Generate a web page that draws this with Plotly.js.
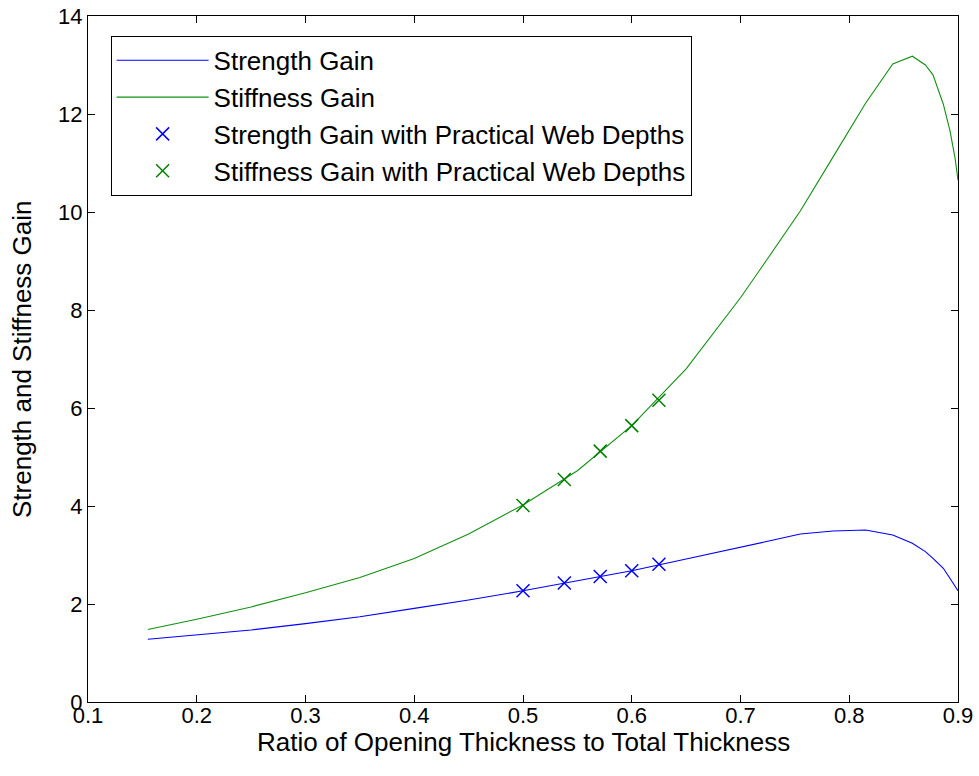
<!DOCTYPE html>
<html>
<head>
<meta charset="utf-8">
<script src="https://cdn.plot.ly/plotly-3.0.1.min.js"></script>
<style>html,body{margin:0;padding:0;background:#fff;}#chart{width:979px;height:776px;}</style>
</head>
<body>
<div id="chart"></div>
<script>
// Ratio of opening thickness to total thickness (curve samples)
const ratio = [0.155, 0.2, 0.25, 0.3, 0.35, 0.4, 0.45, 0.5, 0.55, 0.6, 0.65, 0.7, 0.725, 0.755, 0.785, 0.815, 0.84, 0.858, 0.87, 0.877, 0.8865, 0.8927, 0.8973, 0.9];
const strengthGain = [1.28, 1.37, 1.47, 1.60, 1.74, 1.91, 2.08, 2.27, 2.47, 2.68, 2.92, 3.15, 3.28, 3.43, 3.49, 3.51, 3.41, 3.24, 3.07, 2.93, 2.73, 2.52, 2.36, 2.27];
const stiffnessGain = [1.48, 1.69, 1.94, 2.23, 2.54, 2.93, 3.43, 4.02, 4.72, 5.64, 6.8, 8.25, 9.05, 10.02, 11.12, 12.22, 13.02, 13.18, 13.0, 12.8, 12.2, 11.65, 11.1, 10.65];
// Practical web depths
const practicalRatio = [0.5, 0.538, 0.571, 0.6, 0.625];
const practicalStrength = [2.27, 2.43, 2.56, 2.68, 2.81];
const practicalStiffness = [4.01, 4.54, 5.12, 5.64, 6.16];
const xTicks = [0.1, 0.2, 0.3, 0.4, 0.5, 0.6, 0.7, 0.8, 0.9];
const yTicks = [0, 2, 4, 6, 8, 10, 12, 14];
const xTitle = 'Ratio of Opening Thickness to Total Thickness';
const yTitle = 'Strength and Stiffness Gain';

const FONT = 'Liberation Sans, Arial, sans-serif';
const traces = [
  {x: ratio, y: strengthGain, mode: 'lines', name: 'Strength Gain', legendgroup: 'a',
   line: {color: '#0000ff', width: 1.1}},
  {x: ratio, y: stiffnessGain, mode: 'lines', name: 'Stiffness Gain', legendgroup: 'b',
   line: {color: '#129012', width: 1.1}},
  {x: practicalRatio, y: practicalStrength, mode: 'markers', name: 'Strength Gain with Practical Web Depths', legendgroup: 'c',
   marker: {symbol: 'x-thin', size: 13, line: {color: '#0000ff', width: 1.5}, color: '#0000ff'}},
  {x: practicalRatio, y: practicalStiffness, mode: 'markers', name: 'Stiffness Gain with Practical Web Depths', legendgroup: 'd',
   marker: {symbol: 'x-thin', size: 13, line: {color: '#008000', width: 1.5}, color: '#008000'}}
];
const axisCommon = {
  showline: true, linecolor: '#000', linewidth: 1, mirror: 'ticks',
  ticks: 'inside', ticklen: 7, tickcolor: '#000', tickwidth: 1,
  showgrid: false, zeroline: false,
  tickfont: {family: FONT, size: 22, color: '#000'}
};
const layout = {
  width: 979, height: 776,
  margin: {l: 88, r: 21, t: 16, b: 74},
  paper_bgcolor: '#fff', plot_bgcolor: '#fff',
  showlegend: true,
  legend: {
    x: 0.026, y: 0.971, xanchor: 'left', yanchor: 'top',
    bgcolor: '#fff', bordercolor: '#000', borderwidth: 1,
    font: {family: FONT, size: 26, color: '#000'},
    traceorder: 'grouped', tracegroupgap: 0, itemwidth: 92
  },
  xaxis: Object.assign({}, axisCommon, {
    range: [0.1, 0.9], tickvals: xTicks, ticktext: xTicks.map(String),
    ticklabelstandoff: -6
  }),
  yaxis: Object.assign({}, axisCommon, {
    range: [0, 14], tickvals: yTicks, ticktext: yTicks.map(String)
  }),
  annotations: [
    {text: xTitle, xref: 'paper', yref: 'paper', x: 0.5, y: 0, xanchor: 'center', yanchor: 'top',
     yshift: -23, showarrow: false, font: {family: FONT, size: 26, color: '#000'}},
    {text: yTitle, xref: 'paper', yref: 'paper', x: 0, y: 0.5, xanchor: 'right', yanchor: 'middle',
     xshift: -49, textangle: -90, showarrow: false, font: {family: FONT, size: 26, color: '#000'}}
  ]
};
Plotly.newPlot('chart', traces, layout, {displayModeBar: false, staticPlot: true});
</script>
</body>
</html>
